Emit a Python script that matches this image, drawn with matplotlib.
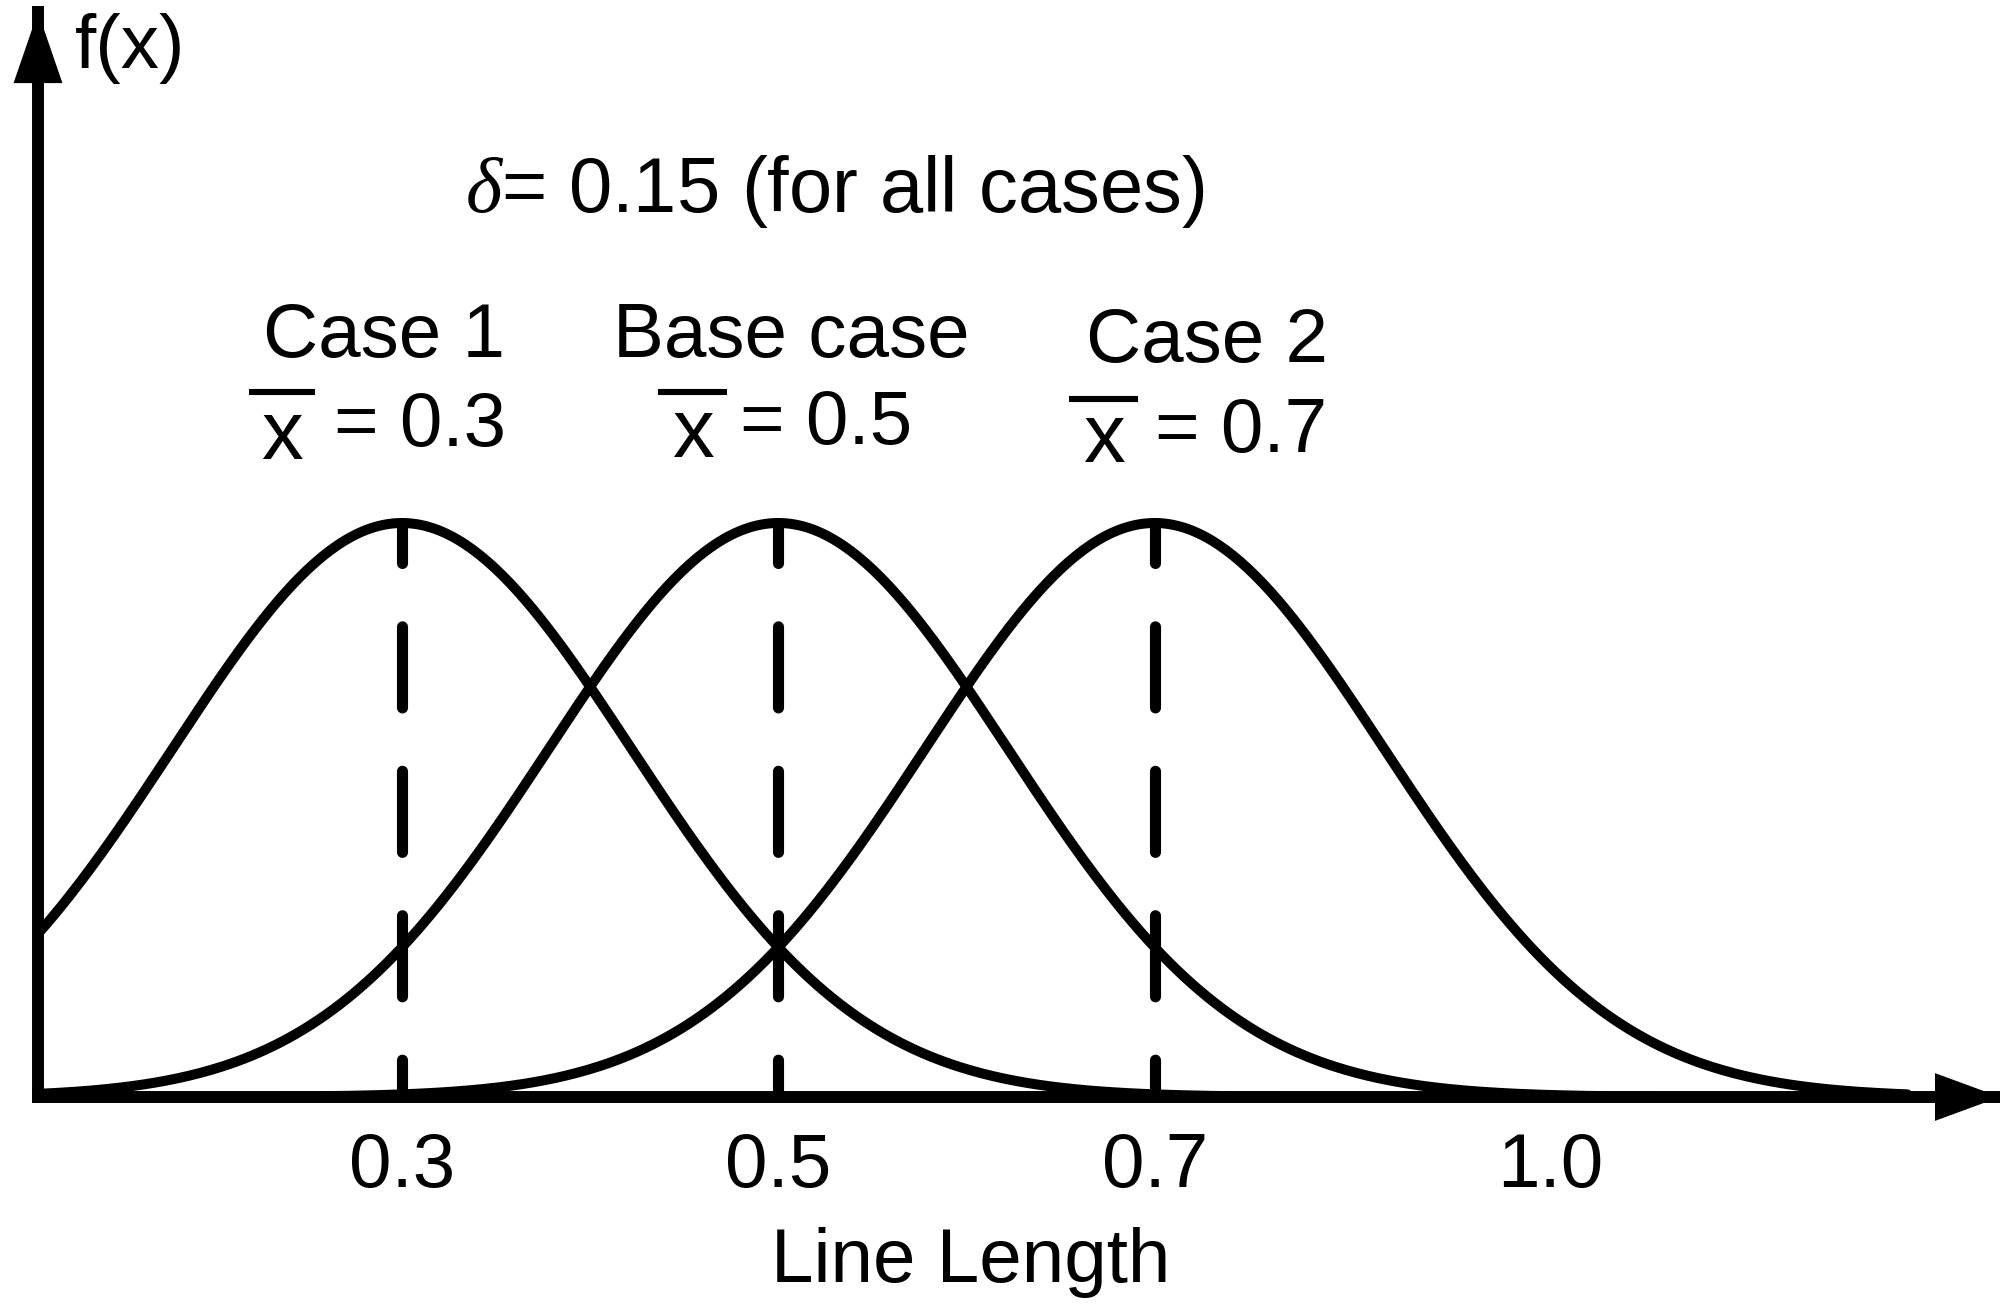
import numpy as np
import matplotlib
matplotlib.use('Agg')
import matplotlib.pyplot as plt
from matplotlib.lines import Line2D

# values
means = [0.3, 0.5, 0.7]
spread = 0.122          # width of the drawn bells
case_names = ['Case 1', 'Base case', 'Case 2']
mean_texts = ['= 0.3', '= 0.5', '= 0.7']
tick_positions = [0.3, 0.5, 0.7, 0.91]
tick_labels = ['0.3', '0.5', '0.7', '1.0']
curve_end = 1.10

plt.rcParams['font.family'] = ['Liberation Sans', 'DejaVu Sans']
plt.rcParams['mathtext.fontset'] = 'custom'
plt.rcParams['mathtext.it'] = 'Liberation Serif:italic'
plt.rcParams['mathtext.rm'] = 'Liberation Sans'

W, H = 2000, 1304
fig = plt.figure(figsize=(W / 200, H / 200), dpi=200)


def fx(px):
    return px / W


def fy(py):
    return 1 - py / H


# origin of the axes at pixel (38, 1097), arrow tips at top=12 and right=2000
ax = fig.add_axes([fx(38), fy(1097), 1 - fx(38), fy(12) - fy(1097)])

px_per_unit = 1881.6
x_min = 0.3 - (402 - 38) / px_per_unit
x_max = 0.3 + (W - 402) / px_per_unit
peak = 1 / (spread * np.sqrt(2 * np.pi))

x = np.linspace(x_min, curve_end, 500)
for m in means:
    y = np.exp(-(x - m) ** 2 / (2 * spread ** 2)) * peak
    ax.plot(x, y, color='black', lw=3.6, solid_capstyle='round', solid_joinstyle='round')
    ax.plot([m, m], [peak, 0], color='black', lw=4.0,
            linestyle=(3.7, (7.3, 5.7)), dash_capstyle='round')

ax.set_xlim(x_min, x_max)
ax.set_ylim(0, peak * 1085 / 574)

for side in ['top', 'right']:
    ax.spines[side].set_visible(False)
for side in ['left', 'bottom']:
    ax.spines[side].set_linewidth(4.3)
    ax.spines[side].set_color('black')

ax.set_yticks([])
ax.set_xticks(tick_positions, tick_labels)
ax.tick_params(axis='x', length=0, pad=12.6, labelsize=27.5, colors='black')

# arrow heads
ax.annotate('', xy=(1, 0), xycoords='axes fraction', xytext=(0.95, 0),
            textcoords='axes fraction', annotation_clip=False,
            arrowprops=dict(arrowstyle='-|>,head_length=2.34,head_width=0.86',
                            mutation_scale=10, lw=0, fc='black', ec='black',
                            shrinkA=0, shrinkB=0))
ax.annotate('', xy=(0, 1), xycoords='axes fraction', xytext=(0, 0.95),
            textcoords='axes fraction', annotation_clip=False,
            arrowprops=dict(arrowstyle='-|>,head_length=2.56,head_width=0.88',
                            mutation_scale=10, lw=0, fc='black', ec='black',
                            shrinkA=0, shrinkB=0))

fig.text(fx(75), fy(68), 'f(x)', fontsize=27.5, ha='left', va='baseline')
fig.text(fx(835), fy(212), r'$\delta$= 0.15 (for all cases)', fontsize=28,
         ha='center', va='baseline')

name_x = [384, 791, 1207]
name_base = [357, 357, 362]
eq_x = [334, 740, 1155]
eq_base = [446, 444, 452]
bar_x = [(249, 315), (658, 727), (1069, 1138)]
bar_y = [392, 392, 399]
xg_base = [459, 457, 462]

for i in range(len(means)):
    fig.text(fx(name_x[i]), fy(name_base[i]), case_names[i], fontsize=27.5,
             ha='center', va='baseline')
    fig.text(fx(eq_x[i]), fy(eq_base[i]), mean_texts[i], fontsize=27.5,
             ha='left', va='baseline')
    x0, x1 = bar_x[i]
    fig.text(fx((x0 + x1) / 2), fy(xg_base[i]), 'x', fontsize=30,
             ha='center', va='baseline')
    fig.add_artist(Line2D([fx(x0), fx(x1)], [fy(bar_y[i]), fy(bar_y[i])],
                          color='black', lw=2.2, solid_capstyle='butt'))

fig.text(fx(971), fy(1282), 'Line Length', fontsize=27.5, ha='center', va='baseline')

fig.savefig('out.png', dpi=200, facecolor='white')
